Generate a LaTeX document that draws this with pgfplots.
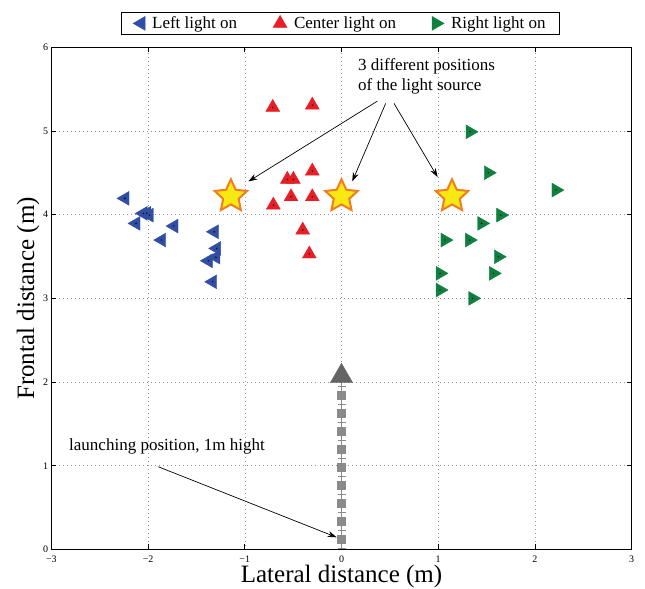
\documentclass[border=0pt]{standalone}
\usepackage{pgfplots}
\pgfplotsset{compat=1.18}
\usepackage{fontspec}
\setmainfont{Liberation Serif}
\usetikzlibrary{arrows.meta}
\definecolor{lblue}{RGB}{48,78,165}
\definecolor{lred}{RGB}{232,30,38}
\definecolor{lgreen}{RGB}{16,128,64}
\definecolor{syellow}{RGB}{248,232,20}
\definecolor{sorange}{RGB}{240,126,30}
\definecolor{lgray}{RGB}{138,138,138}
\definecolor{dgray}{RGB}{100,100,100}
\pgfdeclareplotmark{fstar}{%
  \pgfpathmoveto{\pgfpointpolar{90}{\pgfplotmarksize}}%
  \pgfpathlineto{\pgfpointpolar{126}{0.48\pgfplotmarksize}}%
  \pgfpathlineto{\pgfpointpolar{162}{\pgfplotmarksize}}%
  \pgfpathlineto{\pgfpointpolar{198}{0.48\pgfplotmarksize}}%
  \pgfpathlineto{\pgfpointpolar{234}{\pgfplotmarksize}}%
  \pgfpathlineto{\pgfpointpolar{270}{0.48\pgfplotmarksize}}%
  \pgfpathlineto{\pgfpointpolar{306}{\pgfplotmarksize}}%
  \pgfpathlineto{\pgfpointpolar{342}{0.48\pgfplotmarksize}}%
  \pgfpathlineto{\pgfpointpolar{18}{\pgfplotmarksize}}%
  \pgfpathlineto{\pgfpointpolar{54}{0.48\pgfplotmarksize}}%
  \pgfpathclose
  \pgfusepathqfillstroke}
\begin{document}
\begin{tikzpicture}
\useasboundingbox (-51.4pt,-38.6pt) rectangle (593.4pt,549.3pt);
\begin{axis}[
  scale only axis,
  width=580pt, height=502pt,
  xmin=-3, xmax=3, ymin=0, ymax=6,
  xtick={-3,-2,-1,0,1,2,3},
  xticklabels={−3,−2,−1,0,1,2,3},
  ytick={0,1,2,3,4,5,6},
  yticklabels={0,1,2,3,4,5,6},
  ticklabel style={font=\fontsize{10}{12}\selectfont},
  xticklabel style={inner sep=2pt, yshift=-4pt},
  yticklabel style={inner sep=2pt, xshift=-1pt},
  tick align=inside,
  major tick length=5pt,
  tick style={black, line width=0.7pt},
  axis line style={line width=1.5pt},
  grid=major,
  major grid style={gray!85, line width=0.6pt, dash pattern=on 0.8pt off 3.2pt},
  xlabel={Lateral distance (m)},
  ylabel={Frontal distance (m)},
  xlabel style={at={(axis description cs:0.5,-0.054)}, anchor=center, inner sep=0pt, font=\fontsize{25}{28}\selectfont},
  ylabel style={at={(axis description cs:-0.040,0.5)}, anchor=center, inner sep=0pt, font=\fontsize{25}{28}\selectfont},
  legend columns=3,
  legend style={at={(0.498,1.0245)}, anchor=south, draw=black, line width=0.8pt,
    font=\fontsize{17}{20}\selectfont, inner xsep=12pt, inner ysep=2.5pt,
    /tikz/every odd column/.append style={column sep=5pt},
    /tikz/every even column/.append style={column sep=34pt}},
  legend image code/.code={\draw[mark repeat=2,mark phase=2,#1] plot coordinates {(0pt,0pt)(10pt,0pt)(20pt,0pt)};},
]
% launch trajectory
\addplot[lgray, line width=0.8pt, mark=-, mark size=4pt, mark options={lgray, line width=0.6pt}, forget plot] coordinates {
(0,0.0175)(0,0.125)(0,0.2325)(0,0.34)(0,0.4475)(0,0.555)(0,0.6625)(0,0.77)(0,0.8775)(0,0.985)(0,1.0925)(0,1.2)(0,1.3075)(0,1.415)(0,1.5225)(0,1.63)(0,1.7375)(0,1.845)(0,1.9525)(0,2.05)};
\addplot[only marks, mark=square*, mark size=4pt, mark options={fill=lgray, draw=lgray, line width=0.3pt}, forget plot] coordinates {
(0,0.125)(0,0.34)(0,0.555)(0,0.77)(0,0.985)(0,1.2)(0,1.415)(0,1.63)(0,1.845)};
\addplot[only marks, mark=triangle*, mark size=13pt, mark options={fill=dgray, draw=dgray, line width=0.3pt}, forget plot] coordinates {(0,2.07)};
% left light
\addplot[only marks, mark=triangle*, mark size=8pt, mark options={rotate=90, fill=lblue, draw=lblue, line width=0.4pt}] coordinates {
(-2.239,4.195)(-2.050,4.016)(-2.014,4.016)(-1.988,3.995)(-2.125,3.896)(-1.732,3.864)
(-1.859,3.697)(-1.315,3.796)(-1.291,3.597)(-1.298,3.493)(-1.377,3.449)(-1.332,3.198)};
\addlegendentry{Left light on}
% center light
\addplot[only marks, mark=triangle*, mark size=8pt, mark options={fill=lred, draw=lred, line width=0.4pt}] coordinates {
(-0.711,5.282)(-0.302,5.309)(-0.302,4.521)(-0.560,4.422)(-0.498,4.422)(-0.522,4.214)
(-0.302,4.214)(-0.705,4.115)(-0.401,3.816)(-0.333,3.530)};
\addlegendentry{Center light on}
% right light
\addplot[only marks, mark=triangle*, mark size=8pt, mark options={rotate=-90, fill=lgreen, draw=lgreen, line width=0.4pt}] coordinates {
(1.329,4.990)(1.518,4.501)(2.218,4.294)(1.646,3.995)(1.450,3.896)(1.070,3.697)
(1.322,3.697)(1.621,3.497)(1.019,3.299)(1.570,3.299)(1.019,3.100)(1.357,3.000)};
\addlegendentry{Right light on}
% white centre dots
\addplot[only marks, mark=*, mark size=0.6pt, mark options={fill=white, draw=none}, forget plot] coordinates {
(-2.239,4.195)(-2.050,4.016)(-2.014,4.016)(-1.988,3.995)(-2.125,3.896)(-1.732,3.864)
(-1.859,3.697)(-1.315,3.796)(-1.291,3.597)(-1.298,3.493)(-1.377,3.449)(-1.332,3.198)
(-0.711,5.282)(-0.302,5.309)(-0.302,4.521)(-0.560,4.422)(-0.498,4.422)(-0.522,4.214)
(-0.302,4.214)(-0.705,4.115)(-0.401,3.816)(-0.333,3.530)
(1.329,4.990)(1.518,4.501)(2.218,4.294)(1.646,3.995)(1.450,3.896)(1.070,3.697)
(1.322,3.697)(1.621,3.497)(1.019,3.299)(1.570,3.299)(1.019,3.100)(1.357,3.000)};
% light sources
\addplot[only marks, mark=fstar, mark size=17pt, mark options={fill=syellow, draw=sorange, line width=2pt}, forget plot] coordinates {
(-1.144,4.22)(0,4.22)(1.143,4.22)};
% annotations
\node[anchor=west, align=left, inner sep=0pt, font=\fontsize{17}{20}\selectfont] at (axis cs:0.171,5.648) {3 different positions\\of the light source};
\draw[-{Stealth[length=9pt,width=6pt]}, line width=0.7pt] (axis cs:0.371,5.357) -- (axis cs:-0.963,4.397);
\draw[-{Stealth[length=9pt,width=6pt]}, line width=0.7pt] (axis cs:0.457,5.33) -- (axis cs:0.111,4.397);
\draw[-{Stealth[length=9pt,width=6pt]}, line width=0.7pt] (axis cs:0.543,5.33) -- (axis cs:0.994,4.449);
\node[anchor=west, inner sep=0pt, font=\fontsize{17}{20}\selectfont] at (axis cs:-2.818,1.235) {launching position, 1m hight};
\draw[-{Stealth[length=9pt,width=6pt]}, line width=0.7pt] (axis cs:-1.894,0.988) -- (axis cs:-0.05,0.145);
\end{axis}
\end{tikzpicture}
\end{document}
